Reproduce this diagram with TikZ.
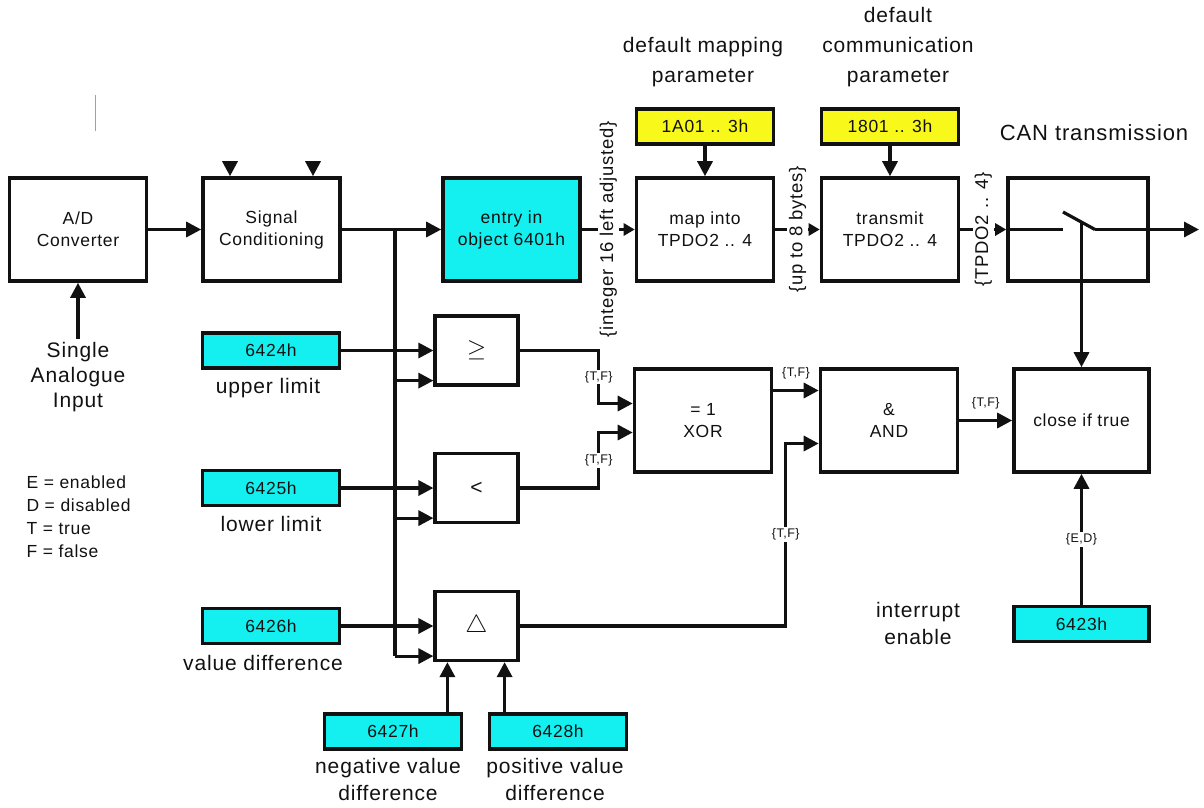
\documentclass[tikz,border=0pt]{standalone}
\usepackage{fontspec}
\setmainfont{Liberation Sans}[LetterSpace=4]
\usepackage{xcolor}
\definecolor{ink}{HTML}{111111}
\definecolor{objcyan}{HTML}{14F0F0}
\definecolor{paryellow}{HTML}{F8F81A}
\usepackage{tikz}
\usetikzlibrary{arrows.meta, positioning, calc}
\newcommand\boxfont{\fontsize{17.5}{22}\selectfont}
\newcommand\lblfont{\fontsize{21}{30}\selectfont}
\newcommand\tagfont{\fontsize{12.5}{14}\selectfont}
\newcommand\rotfont{\fontsize{18.5}{20}\selectfont}
\tikzset{
  >={Triangle[length=15pt, width=15pt]},
  blk/.style={draw=ink, line width=3.6pt, align=center, minimum width=137pt, minimum height=103pt,
    inner sep=2pt, font=\boxfont, text=ink},
  gate/.style={blk, line width=3.2pt, minimum width=83pt, minimum height=69pt},
  obj/.style={draw=ink, line width=3.4pt, fill=objcyan, minimum width=137pt, minimum height=35pt,
    inner sep=1pt, font=\boxfont, text=ink},
  par/.style={obj, fill=paryellow},
  wire/.style={line width=3.2pt, draw=ink},
  flow/.style={wire, ->},
  tf/.style={font=\tagfont, fill=white, inner sep=1.5pt, text=ink},
  rot/.style={font=\rotfont, fill=white, inner sep=2pt, text=ink, rotate=90},
  lbl/.style={font=\lblfont, align=center, text=ink},
}

\begin{document}
\begin{tikzpicture}[x=1pt, y=-1pt]
  \useasboundingbox (0,0) rectangle (1204,807);
  % stray mark
  \draw[ink!40, line width=1pt] (95,95) -- (95,131);
  % top row
  \node[blk] (ad) at (78,229.5) {A/D\\Converter};
  \node[blk] (sig) at (271.5,229.5) {Signal\\Conditioning};
  \node[blk, fill=objcyan] (entry) at (511.5,229.5) {entry in\\object 6401h};
  \node[blk] (map) at (705,229.5) {map into\\TPDO2 .. 4};
  \node[blk] (trans) at (890,229.5) {transmit\\TPDO2 .. 4};
  \node[blk, minimum width=140pt] (can) at (1078,229.5) {};
  % parameter objects and headings
  \node[par] (mpar) at (705,126.5) {1A01 .. 3h};
  \node[par] (cpar) at (890,126.5) {1801 .. 3h};
  \node[lbl] (mtxt) at (703,62) {default mapping\\parameter};
  \node[lbl] (ctxt) at (898,47) {default\\communication\\parameter};
  \node[lbl, font=\fontsize{22}{26}\selectfont] (cantxt) at (1094,133) {CAN transmission};
  \node[lbl, font=\fontsize{21}{25}\selectfont] (ain) at (78,377) {Single\\Analogue\\Input};
  % comparators
  \node[gate] (ge) at (476.5,350.5) {\fontsize{26}{26}\selectfont$\geq$};
  \node[gate] (lt) at (476.5,488) {\fontsize{21}{21}\selectfont<};
  \node[gate] (dl) at (476.5,626) {\fontsize{28}{28}\selectfont$\triangle$};
  % logic
  \node[blk] (xor) at (703,420.5) {= 1\\XOR};
  \node[blk] (and) at (889,420.5) {\&\\AND};
  \node[blk, minimum width=135pt] (close) at (1081.5,420.5) {close if true};
  % cyan objects
  \node[obj] (o6424) at (271,350.5) {6424h};
  \node[obj] (o6425) at (271,488) {6425h};
  \node[obj] (o6426) at (271,626) {6426h};
  \node[obj] (o6427) at (393,731.5) {6427h};
  \node[obj] (o6428) at (558,731.5) {6428h};
  \node[obj, minimum width=135pt] (o6423) at (1081.5,624) {6423h};
  \node[lbl] (t6424) at (268,388) {upper limit};
  \node[lbl] (t6425) at (271,524) {lower limit};
  \node[lbl] (t6426) at (263,663) {value difference};
  \node[lbl, font=\fontsize{21}{27}\selectfont] (t6427) at (388,779) {negative value\\difference};
  \node[lbl, font=\fontsize{21}{27}\selectfont] (t6428) at (555,779) {positive value\\difference};
  \node[lbl, font=\fontsize{21}{27}\selectfont] (t6423) at (918,623) {interrupt\\enable};
  % legend
  \node[lbl, align=left, anchor=west, font=\fontsize{17.5}{23}\selectfont] (legend) at (23,517)
    {E = enabled\\D = disabled\\T = true\\F = false};

  % signal path
  \draw[flow] (ain) -- (ad);
  \draw[flow] (ad) -- (sig);
  \foreach \x/\n in {230/sa, 313/sb} {
    \coordinate (\n) at (\x,161);
    \draw[flow] (\n) -- (\n |- sig.north);
  }
  \coordinate (bus) at (395,229.5);
  \draw[flow] (sig) -- (entry);
  \foreach \g in {ge, lt, dl} {
    \coordinate (\g-in) at ([yshift=6pt]\g.south west);
    \draw[flow] (bus |- \g-in) -- (\g-in);
  }
  \draw[wire] (bus) -- (bus |- dl-in);
  \draw[flow] (o6424) -- (ge);
  \draw[flow] (o6425) -- (lt);
  \draw[flow] (o6426) -- (dl);
  \coordinate (dna) at ([xshift=14pt]dl.south west);
  \coordinate (dpa) at ([xshift=-15pt]dl.south east);
  \draw[flow] (o6427.north -| dna) -- (dna);
  \draw[flow] (o6428.north -| dpa) -- (dpa);

  % comparator outputs into XOR and AND
  \coordinate (xa) at ([yshift=17pt]xor.west);
  \coordinate (xb) at ([yshift=-12pt]xor.west);
  \coordinate (ab) at ([yshift=-23pt]and.west);
  \draw[flow] (ge.east) -| node[tf, pos=0.75] {\{T,F\}} ($(xa)+(-34,0)$) -- (xa);
  \draw[flow] (lt.east) -| node[tf, pos=0.75] {\{T,F\}} ($(xb)+(-34,0)$) -- (xb);
  \draw[flow] ([yshift=30pt]xor.east) -- node[tf, above=8pt] {\{T,F\}} ([yshift=30pt]and.west);
  \draw[flow] (dl.east) -| node[tf, pos=0.75] {\{T,F\}} ($(ab)+(-33,0)$) -- (ab);
  \draw[flow] (and) -- node[tf, above=8pt] {\{T,F\}} (close);
  \draw[flow] (o6423) -- node[tf] {\{E,D\}} (close);

  % transmission chain
  \draw[flow] (mpar) -- (map);
  \draw[flow] (cpar) -- (trans);
  \begin{scope}[>={Triangle[length=11pt, width=12pt]}]
    \draw[flow] (entry) -- node[rot] {\{integer 16 left adjusted\}} (map);
    \draw[flow] (map) -- node[rot] {\{up to 8 bytes\}} (trans);
    \draw[flow] (trans) -- node[rot] {\{TPDO2 .. 4\}} (can);
  \end{scope}
  % switch
  \coordinate (swa) at (1063,229.5);
  \coordinate (swb) at (1063,212);
  \coordinate (swc) at (1095,229.5);
  \coordinate (swm) at (1081.5,222);
  \coordinate (canout) at (1199,229.5);
  \draw[wire] (can.west) -- (swa);
  \draw[wire] (swb) -- (swc);
  \draw[flow] (swc) -- (canout);
  \draw[flow] (swm) -- (close);
\end{tikzpicture}
\end{document}
